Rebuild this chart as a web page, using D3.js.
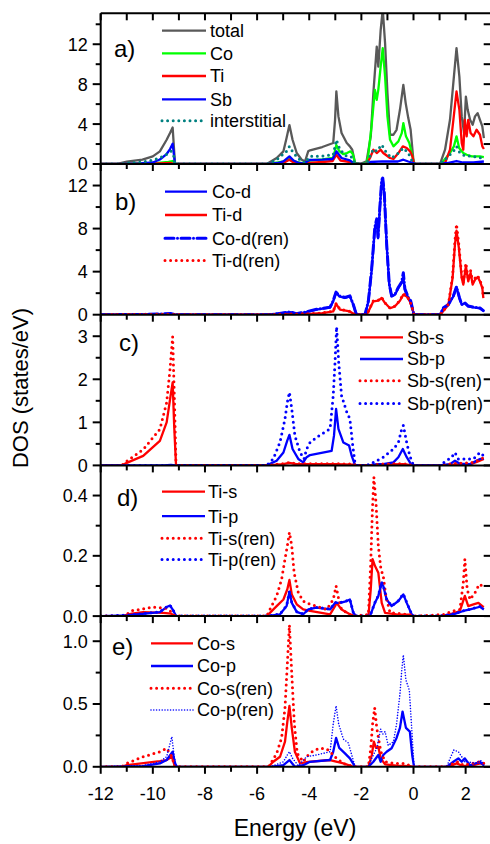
<!DOCTYPE html>
<html><head><meta charset="utf-8">
<script src="https://cdn.jsdelivr.net/npm/d3@7"></script>
<style>
html,body{margin:0;padding:0;background:#fff;}
svg{display:block;font-family:"Liberation Sans",Arial,sans-serif;}
</style></head>
<body><svg id="c" width="490" height="844"></svg>
<script>
// ---------- data: [energy eV, DOS] ----------
// panel a
const total = [[-12,0],[-11.4,0],[-11.0,0.23],[-10.4,0.43],[-10.0,0.77],[-9.73,1.27],[-9.47,2.43],[-9.34,3.1],[-9.24,3.66],[-9.15,0],
[-5.63,0],[-5.25,0.6],[-4.99,1.27],[-4.87,2.6],[-4.76,3.9],[-4.64,2.43],[-4.48,1.1],[-4.29,0.43],[-4.16,0.27],[-4.04,1.27],[-3.97,1.37],[-3.5,1.7],[-3.08,2.1],[-3.01,4.4],[-2.96,7.27],[-2.88,4.77],[-2.76,3.1],[-2.56,2.1],[-2.44,1.77],[-2.35,1.43],[-2.24,0.1],[-2.05,0],[-1.8,0.27],[-1.64,2.77],[-1.54,7.1],[-1.41,11.76],[-1.35,9.76],[-1.26,13.4],[-1.18,15.5],[-1.09,12.1],[-1.0,7.1],[-0.9,2.93],[-0.77,2.93],[-0.65,3.43],[-0.52,5.43],[-0.39,7.93],[-0.30,6.1],[-0.20,4.6],[-0.11,3.43],[0,0.27],[0.06,0],
[1.02,0],[1.21,1.43],[1.40,4.43],[1.55,8.76],[1.65,11.6],[1.76,8.76],[1.85,4.77],[1.94,3.1],[2.01,6.76],[2.08,5.43],[2.17,4.43],[2.27,3.93],[2.36,4.77],[2.46,5.1],[2.55,4.43],[2.64,3.77],[2.7,2.6]];
const co = [[-12,0],[-11.2,0],[-10.5,0.05],[-9.8,0.12],[-9.4,0.22],[-9.24,0.3],[-9.15,0],
[-5.6,0],[-5.2,0.15],[-4.9,0.3],[-4.76,0.5],[-4.6,0.3],[-4.3,0.1],[-4.1,0.05],[-4.0,0.35],[-3.5,0.45],[-3.08,0.6],[-2.96,1.9],[-2.85,1.3],[-2.7,1.0],[-2.55,1.1],[-2.42,1.27],[-2.33,1.0],[-2.24,0.05],[-2.05,0],[-1.80,0.15],[-1.74,0.76],[-1.61,3.76],[-1.48,7.43],[-1.41,6.43],[-1.35,7.43],[-1.26,9.76],[-1.18,11.6],[-1.09,8.76],[-1.0,4.77],[-0.9,2.43],[-0.77,1.77],[-0.58,2.27],[-0.45,3.1],[-0.39,4.1],[-0.29,2.77],[-0.16,2.1],[-0.07,1.1],[0.02,0.1],[0.06,0],
[1.0,0],[1.14,0.27],[1.40,1.1],[1.55,1.77],[1.65,2.77],[1.75,1.6],[1.91,1.1],[2.04,0.93],[2.23,0.76],[2.55,0.76],[2.7,0.7]];
const ti = [[-12,0],[-11.2,0],[-10.5,0.03],[-9.8,0.06],[-9.3,0.1],[-9.15,0],
[-5.6,0],[-5.0,0.1],[-4.76,0.43],[-4.6,0.15],[-4.3,0.03],[-4.0,0.1],[-3.5,0.2],[-3.1,0.3],[-2.96,0.93],[-2.8,0.35],[-2.44,0.2],[-2.3,0.1],[-2.24,0],
[-1.8,0],[-1.67,0.6],[-1.54,1.43],[-1.41,1.1],[-1.26,1.43],[-1.16,1.1],[-0.9,0.6],[-0.77,0.5],[-0.58,1.1],[-0.41,1.77],[-0.26,1.6],[-0.13,1.27],[-0.04,0.76],[0.02,0],
[1.0,0],[1.21,0.1],[1.40,1.43],[1.53,4.43],[1.65,7.27],[1.76,5.43],[1.85,2.1],[1.91,1.43],[1.97,4.43],[2.04,2.77],[2.10,4.43],[2.19,3.1],[2.30,2.77],[2.42,3.43],[2.55,2.93],[2.64,1.77],[2.7,1.5]];
const sb = [[-12,0],[-11.2,0],[-10.5,0.05],[-10.0,0.15],[-9.73,0.45],[-9.47,1.0],[-9.34,1.5],[-9.24,2.03],[-9.15,0],
[-5.6,0],[-5.2,0.1],[-4.99,0.27],[-4.76,0.76],[-4.6,0.35],[-4.4,0.1],[-4.2,0.05],[-4.0,0.4],[-3.5,0.43],[-3.1,0.5],[-2.96,1.27],[-2.76,0.6],[-2.44,0.37],[-2.3,0.1],[-2.24,0],
[-1.8,0],[-1.65,0.2],[-1.2,0.27],[-0.6,0.25],[-0.39,0.43],[-0.2,0.25],[0,0.1],[0.06,0],
[1.0,0],[1.3,0.1],[1.65,0.3],[1.9,0.15],[2.3,0.15],[2.7,0.25]];
const interstitial = [[-12,0],[-11.2,0],[-11.0,0.08],[-10.4,0.2],[-10.0,0.4],[-9.7,0.65],[-9.45,1.0],[-9.3,1.27],[-9.2,0.8],[-9.15,0],
[-5.6,0],[-5.25,0.43],[-4.87,1.27],[-4.76,1.77],[-4.61,1.1],[-4.36,0.43],[-4.16,0.1],[-3.97,0.76],[-3.5,0.8],[-3.08,0.93],[-2.96,2.43],[-2.82,1.43],[-2.56,0.76],[-2.37,0.7],[-2.24,0],
[-1.8,0],[-1.67,0.76],[-1.54,1.5],[-1.41,1.27],[-1.22,1.93],[-1.03,1.1],[-0.84,0.6],[-0.58,1.1],[-0.39,1.6],[-0.2,1.1],[0,0],
[1.0,0],[1.27,0.6],[1.53,1.27],[1.65,1.77],[1.78,1.1],[1.97,0.83],[2.3,0.76],[2.64,0.6],[2.7,0.55]];
// panel b
const coD = [[-12,0],[-10.5,0.02],[-9.3,0.08],[-9.15,0],[-5.6,0],[-5.2,0.1],[-4.74,0.24],[-4.5,0.1],[-4.2,0.2],[-3.72,0.47],[-3.2,0.68],[-3.08,1.24],[-2.97,2.07],[-2.85,1.7],[-2.63,1.55],[-2.44,1.7],[-2.31,0.93],[-2.21,0.15],[-2.12,0],
[-1.86,0],[-1.73,1.24],[-1.61,4.0],[-1.48,8.06],[-1.41,8.8],[-1.36,7.1],[-1.29,9.9],[-1.22,12.4],[-1.18,12.6],[-1.12,11.2],[-1.03,6.5],[-0.93,2.8],[-0.84,1.7],[-0.71,1.86],[-0.58,2.48],[-0.46,2.94],[-0.39,3.45],[-0.33,2.3],[-0.2,1.55],[-0.11,1.24],[0,0.15],[0.06,0],
[1.02,0],[1.14,0.6],[1.34,0.93],[1.53,1.7],[1.65,2.54],[1.76,1.55],[1.85,0.93],[1.97,1.08],[2.1,0.78],[2.3,0.68],[2.55,0.6],[2.68,0.36]];
const tiD = [[-12,0],[-9.3,0.03],[-9.15,0],[-5.6,0],[-4.74,0.05],[-4.0,0.08],[-3.5,0.15],[-3.08,0.3],[-2.97,1.0],[-2.82,0.47],[-2.44,0.3],[-2.25,0],
[-1.8,0],[-1.73,0.3],[-1.54,1.24],[-1.35,1.3],[-1.22,1.55],[-1.09,1.08],[-0.9,0.6],[-0.71,0.78],[-0.52,1.3],[-0.39,1.86],[-0.26,1.7],[-0.14,1.24],[-0.05,0.6],[0.02,0],
[1.0,0],[1.08,0.15],[1.34,0.93],[1.5,3.41],[1.59,6.5],[1.65,7.8],[1.74,6.2],[1.85,3.4],[1.91,2.8],[2.01,4.5],[2.1,3.1],[2.19,3.9],[2.27,2.8],[2.36,3.25],[2.46,3.5],[2.55,3.1],[2.64,2.48],[2.68,1.55]];
const coDren = [[-12,0],[-10.5,0.02],[-9.3,0.1],[-9.15,0],[-5.6,0],[-5.2,0.1],[-4.74,0.26],[-4.5,0.1],[-4.2,0.22],[-3.72,0.5],[-3.2,0.7],[-3.08,1.3],[-2.97,2.1],[-2.85,1.75],[-2.63,1.6],[-2.44,1.75],[-2.31,0.95],[-2.21,0.15],[-2.12,0],
[-1.86,0],[-1.73,1.3],[-1.61,4.1],[-1.48,8.2],[-1.41,8.9],[-1.36,7.2],[-1.29,10.0],[-1.22,12.5],[-1.18,12.7],[-1.12,11.3],[-1.03,6.6],[-0.93,2.85],[-0.84,1.75],[-0.71,1.9],[-0.58,2.55],[-0.46,3.0],[-0.39,3.9],[-0.33,2.4],[-0.2,1.6],[-0.11,1.3],[0,0.15],[0.06,0],
[1.02,0],[1.14,0.62],[1.34,0.95],[1.53,1.75],[1.65,2.6],[1.76,1.6],[1.85,0.95],[1.97,1.1],[2.1,0.8],[2.3,0.7],[2.55,0.62],[2.68,0.38]];
const tiDren = [[-12,0],[-9.3,0.04],[-9.15,0],[-5.6,0],[-4.74,0.06],[-4.0,0.09],[-3.5,0.16],[-3.08,0.32],[-2.97,1.05],[-2.82,0.5],[-2.44,0.32],[-2.25,0],
[-1.8,0],[-1.73,0.32],[-1.54,1.3],[-1.35,1.35],[-1.22,1.6],[-1.09,1.1],[-0.9,0.62],[-0.71,0.8],[-0.52,1.35],[-0.39,1.95],[-0.26,1.75],[-0.14,1.3],[-0.05,0.62],[0.02,0],
[1.0,0],[1.08,0.16],[1.34,0.98],[1.5,3.6],[1.59,6.9],[1.65,8.4],[1.74,6.5],[1.85,3.6],[1.91,3.0],[2.01,4.8],[2.1,3.3],[2.19,4.1],[2.27,3.0],[2.36,3.4],[2.46,3.65],[2.55,3.2],[2.64,2.6],[2.68,1.6]];
// panel c
const sbS = [[-12,0],[-11.19,0],[-11.0,0.06],[-10.37,0.22],[-9.73,0.57],[-9.47,1.0],[-9.34,1.53],[-9.24,1.93],[-9.18,0.9],[-9.11,0],
[-5.6,0],[-5.0,0.03],[-4.76,0.06],[-4.5,0.03],[-3.0,0.03],[-2.3,0.02],[-2.2,0],[-1.7,0],[-1.2,0.02],[-0.4,0.03],[0,0],[1.0,0],[1.5,0.02],[2.2,0.03],[2.5,0.1],[2.7,0.15]];
const sbP = [[-12,0],[-9.6,0],[-9.3,0.01],[-9.15,0],[-5.63,0],[-5.25,0.11],[-4.99,0.3],[-4.84,0.58],[-4.76,0.71],[-4.64,0.38],[-4.42,0.15],[-4.23,0.07],[-4.1,0.19],[-3.97,0.24],[-3.14,0.34],[-3.05,0.69],[-2.97,1.31],[-2.88,0.85],[-2.69,0.53],[-2.47,0.46],[-2.37,0.22],[-2.24,0],
[-1.7,0],[-1.4,0.03],[-1.16,0.03],[-0.77,0.07],[-0.58,0.19],[-0.41,0.38],[-0.26,0.19],[-0.07,0],
[1.02,0],[1.4,0.03],[1.59,0.11],[1.78,0.04],[2.17,0.03],[2.55,0.15],[2.7,0.15]];
const sbSren = [[-12,0],[-11.19,0],[-11.0,0.1],[-10.37,0.37],[-9.73,0.84],[-9.47,1.46],[-9.34,2.24],[-9.24,2.99],[-9.18,1.7],[-9.11,0],
[-5.6,0],[-5.0,0.04],[-4.76,0.07],[-4.5,0.04],[-3.0,0.04],[-2.3,0.03],[-2.2,0],[-1.7,0],[-1.2,0.03],[-0.4,0.04],[0,0],[1.0,0],[1.5,0.04],[2.2,0.06],[2.5,0.12],[2.7,0.18]];
const sbPren = [[-12,0],[-9.15,0],[-5.63,0],[-5.38,0.15],[-5.12,0.54],[-4.93,1.08],[-4.84,1.47],[-4.76,1.7],[-4.67,1.31],[-4.55,0.69],[-4.35,0.3],[-4.2,0.15],[-4.1,0.38],[-3.97,0.53],[-3.72,0.65],[-3.2,0.85],[-3.08,1.62],[-3.01,2.4],[-2.95,3.22],[-2.87,2.4],[-2.76,1.62],[-2.56,1.24],[-2.44,1.08],[-2.33,0.46],[-2.24,0.03],[-2.2,0],
[-1.8,0],[-1.67,0.03],[-1.41,0.11],[-1.16,0.19],[-0.77,0.38],[-0.58,0.53],[-0.45,0.85],[-0.39,0.93],[-0.26,0.53],[-0.14,0.22],[0,0],
[1.0,0],[1.27,0.11],[1.46,0.19],[1.59,0.3],[1.72,0.15],[1.97,0.15],[2.3,0.15],[2.55,0.3],[2.7,0.22]];
// panel d
const tiS = [[-12,0],[-11.19,0],[-10.8,0.008],[-10.37,0.013],[-9.6,0.011],[-9.3,0.008],[-9.15,0],
[-5.63,0],[-5.25,0.033],[-4.99,0.055],[-4.84,0.089],[-4.76,0.12],[-4.67,0.072],[-4.48,0.039],[-4.23,0.022],[-3.97,0.017],[-3.2,0.006],[-3.01,0.033],[-2.95,0.044],[-2.76,0.022],[-2.44,0.006],[-2.24,0],
[-1.73,0],[-1.64,0.089],[-1.57,0.189],[-1.48,0.167],[-1.35,0.144],[-1.22,0.044],[-1.09,0.011],[-0.65,0.006],[-0.14,0.005],[0,0],
[1.0,0],[1.4,0.006],[1.78,0.017],[1.97,0.067],[2.1,0.033],[2.3,0.039],[2.49,0.044],[2.64,0.033],[2.7,0.03]];
const tiP = [[-12,0],[-11.0,0.002],[-9.73,0.013],[-9.47,0.03],[-9.34,0.035],[-9.21,0.018],[-9.11,0],
[-5.63,0],[-5.12,0.006],[-4.87,0.033],[-4.76,0.08],[-4.67,0.044],[-4.48,0.014],[-4.23,0.006],[-4.04,0.022],[-3.72,0.028],[-3.2,0.022],[-3.01,0.044],[-2.82,0.044],[-2.56,0.05],[-2.44,0.055],[-2.31,0.011],[-2.2,0],
[-1.67,0],[-1.48,0.044],[-1.35,0.067],[-1.22,0.111],[-1.16,0.1],[-1.03,0.055],[-0.84,0.033],[-0.58,0.05],[-0.39,0.072],[-0.26,0.044],[-0.07,0.006],[0,0],
[1.02,0],[1.53,0.006],[1.91,0.017],[2.17,0.022],[2.55,0.031],[2.7,0.022]];
const tiSren = [[-12,0],[-11.1,0],[-10.79,0.018],[-10.37,0.024],[-10.02,0.03],[-9.47,0.026],[-9.21,0.008],[-9.15,0],
[-5.63,0],[-5.51,0.022],[-5.25,0.067],[-5.06,0.122],[-4.93,0.189],[-4.84,0.233],[-4.76,0.278],[-4.67,0.233],[-4.58,0.144],[-4.42,0.078],[-4.23,0.05],[-3.97,0.039],[-3.72,0.033],[-3.33,0.022],[-3.08,0.055],[-2.97,0.1],[-2.88,0.061],[-2.76,0.022],[-2.56,0.011],[-2.3,0],
[-1.73,0.005],[-1.64,0.178],[-1.58,0.344],[-1.52,0.461],[-1.44,0.378],[-1.35,0.233],[-1.25,0.156],[-1.16,0.133],[-1.06,0.067],[-0.9,0.011],[-0.52,0.008],[-0.14,0.005],[0,0],
[1.14,0.005],[1.53,0.017],[1.78,0.022],[1.91,0.111],[1.97,0.189],[2.06,0.089],[2.17,0.055],[2.36,0.078],[2.52,0.106],[2.64,0.1],[2.7,0.09]];
const tiPren = [[-12,0],[-11.0,0.003],[-9.73,0.014],[-9.47,0.031],[-9.34,0.036],[-9.21,0.018],[-9.11,0],
[-5.63,0],[-5.12,0.007],[-4.87,0.034],[-4.76,0.082],[-4.67,0.045],[-4.48,0.015],[-4.23,0.007],[-4.04,0.023],[-3.72,0.029],[-3.2,0.023],[-3.01,0.045],[-2.82,0.045],[-2.56,0.051],[-2.44,0.056],[-2.31,0.012],[-2.2,0],
[-1.67,0],[-1.48,0.045],[-1.35,0.068],[-1.22,0.113],[-1.16,0.102],[-1.03,0.056],[-0.84,0.034],[-0.58,0.051],[-0.39,0.074],[-0.26,0.045],[-0.07,0.007],[0,0],
[1.02,0],[1.53,0.007],[1.91,0.018],[2.17,0.023],[2.55,0.032],[2.7,0.023]];
// panel e
const coS = [[-12,0],[-11.19,0],[-11.0,0.013],[-9.73,0.045],[-9.47,0.054],[-9.27,0.08],[-9.15,0],
[-5.57,0],[-5.38,0.04],[-5.12,0.08],[-4.93,0.2],[-4.84,0.36],[-4.76,0.485],[-4.67,0.31],[-4.55,0.12],[-4.35,0.027],[-4.04,0.04],[-3.2,0.054],[-2.69,0.027],[-2.3,0],
[-1.73,0],[-1.6,0.094],[-1.52,0.2],[-1.44,0.15],[-1.35,0.16],[-1.26,0.067],[-1.09,0.02],[-0.65,0.01],[-0.14,0.005],[0,0],
[1.14,0],[1.4,0.005],[1.65,0.027],[1.85,0.01],[2.17,0.005],[2.55,0.027],[2.7,0.02]];
const coP = [[-12,0],[-10.37,0.005],[-9.73,0.027],[-9.47,0.054],[-9.24,0.12],[-9.15,0.03],[-9.08,0],
[-5.5,0],[-4.99,0.013],[-4.76,0.054],[-4.55,0],[-4.23,0.013],[-3.97,0.04],[-3.2,0.054],[-3.08,0.12],[-2.97,0.23],[-2.85,0.15],[-2.63,0.107],[-2.44,0.067],[-2.24,0],
[-1.73,0],[-1.54,0.04],[-1.35,0.094],[-1.26,0.04],[-1.16,0.094],[-1.03,0.12],[-0.84,0.148],[-0.65,0.23],[-0.52,0.31],[-0.42,0.44],[-0.29,0.31],[-0.14,0.28],[-0.05,0.094],[0.02,0],
[1.27,0],[1.53,0.04],[1.72,0.067],[1.85,0.04],[1.97,0.067],[2.17,0.01],[2.55,0.04],[2.7,0.01]];
const coSren = [[-12,0],[-11.19,0],[-11.0,0.027],[-10.37,0.08],[-9.73,0.12],[-9.47,0.148],[-9.27,0.08],[-9.15,0],
[-5.57,0],[-5.44,0.04],[-5.25,0.107],[-5.06,0.23],[-4.93,0.47],[-4.84,0.82],[-4.76,1.13],[-4.67,0.74],[-4.57,0.34],[-4.46,0.107],[-4.23,0.04],[-4.04,0.094],[-3.84,0.127],[-3.59,0.148],[-3.33,0.143],[-3.14,0.107],[-2.95,0.067],[-2.69,0.027],[-2.44,0.01],[-2.24,0],
[-1.73,0],[-1.64,0.148],[-1.57,0.34],[-1.49,0.47],[-1.41,0.31],[-1.32,0.2],[-1.25,0.12],[-1.09,0.04],[-0.77,0.027],[-0.39,0.027],[-0.14,0.01],[0,0],
[1.27,0],[1.53,0.027],[1.72,0.04],[1.91,0.013],[2.55,0.04],[2.7,0.027]];
const coPren = [[-12,0],[-10.37,0.01],[-9.73,0.04],[-9.47,0.08],[-9.27,0.24],[-9.18,0.08],[-9.1,0],
[-5.5,0],[-4.99,0.04],[-4.84,0.094],[-4.76,0.12],[-4.64,0.067],[-4.42,0.01],[-4.1,0.08],[-3.72,0.094],[-3.2,0.12],[-3.08,0.34],[-2.97,0.485],[-2.87,0.34],[-2.69,0.22],[-2.5,0.19],[-2.37,0.094],[-2.24,0],
[-1.73,0],[-1.6,0.067],[-1.41,0.148],[-1.26,0.3],[-1.18,0.26],[-1.09,0.28],[-0.97,0.17],[-0.77,0.2],[-0.65,0.34],[-0.52,0.58],[-0.45,0.77],[-0.39,0.89],[-0.29,0.69],[-0.16,0.61],[-0.07,0.31],[0.02,0],
[1.27,0],[1.46,0.094],[1.55,0.134],[1.72,0.12],[1.85,0.08],[1.97,0.04],[2.4,0.03],[2.6,0.05],[2.7,0.01]];

// axis ticks / labels
const xTicks = d3.range(-12, 4, 1);
const xTickLabels = ["-12","-10","-8","-6","-4","-2","0","2"];
const xLabelValues = [-12,-10,-8,-6,-4,-2,0,2];
const panelLabels = ["a)","b)","c)","d)","e)"];
const yMax = [15.1, 14.0, 3.5, 0.5, 1.2];
const yMajor = [[0,4,8,12],[0,4,8,12],[0,1,2,3],[0,0.2,0.4],[0,0.5,1.0]];
const yMajorLabels = [["0","4","8","12"],["0","4","8","12"],["0","1","2","3"],["0.0","0.2","0.4"],["0.0","0.5","1.0"]];
const yMinor = [[2,6,10,14],[2,6,10],[0.5,1.5,2.5,3.5],[0.1,0.3,0.5],[0.25,0.75]];

// series styles
const RED="#ff0000", BLUE="#0000ff", GREEN="#00ff00", GRAY="#595959", TEAL="#008080";
const SOLID={w:2.3,dash:null,cap:"butt"};
const DOT={w:3,dash:"0,5.6",cap:"round"};
const DASHDOT={w:3,dash:"9,3.5,0,3.5",cap:"round"};
const THINDOT={w:1.6,dash:"0,2.8",cap:"round"};
const panels = [
  {series:[["total",total,GRAY,SOLID],["Co",co,GREEN,SOLID],["Ti",ti,RED,SOLID],["Sb",sb,BLUE,SOLID],["interstitial",interstitial,TEAL,DOT]],
   legend:{x1:162,x2:206,tx:210,ys:[30.7,53.3,76,99.3,120.7]}, lab:[114,57]},
  {series:[["Co-d",coD,BLUE,SOLID],["Ti-d",tiD,RED,SOLID],["Co-d(ren)",coDren,BLUE,DASHDOT],["Ti-d(ren)",tiDren,RED,DOT]],
   legend:{x1:165,x2:207,tx:212,ys:[191.7,215,238.3,260.5]}, lab:[115,210]},
  {series:[["Sb-s",sbS,RED,SOLID],["Sb-p",sbP,BLUE,SOLID],["Sb-s(ren)",sbSren,RED,DOT],["Sb-p(ren)",sbPren,BLUE,DOT]],
   legend:{x1:360,x2:403,tx:407,ys:[337.3,359,380.7,403.5]}, lab:[119,351]},
  {series:[["Ti-s",tiS,RED,SOLID],["Ti-p",tiP,BLUE,SOLID],["Ti-s(ren)",tiSren,RED,DOT],["Ti-p(ren)",tiPren,BLUE,DOT]],
   legend:{x1:162,x2:205,tx:208,ys:[491.7,516.2,538.3,559.5]}, lab:[117,506]},
  {series:[["Co-s",coS,RED,SOLID],["Co-p",coP,BLUE,SOLID],["Co-s(ren)",coSren,RED,DOT],["Co-p(ren)",coPren,BLUE,THINDOT]],
   legend:{x1:151,x2:193,tx:197,ys:[643.3,666,688.3,710]}, lab:[112,655]}
];

// ---------- layout ----------
const svg = d3.select("#c");
const L = 100.7, R = 491.7, T0 = 13.3, PH = 150.7;
const x = d3.scaleLinear().domain([-12, 3]).range([L, R]);
const FONT = 18;

panels.forEach((p, i) => {
  const top = T0 + i*PH, bot = top + PH;
  const y = d3.scaleLinear().domain([0, yMax[i]]).range([bot, top]);
  const g = svg.append("g");
  const cid = "clip"+i;
  svg.append("clipPath").attr("id", cid).append("rect").attr("x", L).attr("y", top).attr("width", R-L).attr("height", PH);
  const line = d3.line().x(d => x(d[0])).y(d => y(d[1]));
  const cg = g.append("g").attr("clip-path", `url(#${cid})`);
  p.series.forEach(([name, data, col, st]) => {
    cg.append("path").attr("d", line(data)).attr("fill","none").attr("stroke", col)
      .attr("stroke-width", st.w).attr("stroke-linecap", st.cap).attr("stroke-linejoin","round")
      .attr("stroke-dasharray", st.dash);
  });
  // left axis
  const ax = g.append("g").attr("stroke","#000").attr("stroke-width",2);
  ax.append("line").attr("x1",L).attr("x2",L).attr("y1",top).attr("y2",bot);
  ax.append("line").attr("x1",L).attr("x2",R).attr("y1",bot).attr("y2",bot);
  if (i === 0) ax.append("line").attr("x1",L).attr("x2",R).attr("y1",top).attr("y2",top);
  yMajor[i].forEach(v => {
    ax.append("line").attr("x1",L-8).attr("x2",L).attr("y1",y(v)).attr("y2",y(v));
    ax.append("line").attr("x1",R-8).attr("x2",R).attr("y1",y(v)).attr("y2",y(v));
  });
  yMinor[i].forEach(v => {
    if (y(v) < top + 1) return;
    ax.append("line").attr("x1",L-5).attr("x2",L).attr("y1",y(v)).attr("y2",y(v));
    ax.append("line").attr("x1",R-8).attr("x2",R).attr("y1",y(v)).attr("y2",y(v));
  });
  xTicks.forEach(v => {
    const len = (v % 2 === 0) ? 7 : 5;
    ax.append("line").attr("x1",x(v)).attr("x2",x(v)).attr("y1",bot).attr("y2",bot+len);
    if (i === 0) ax.append("line").attr("x1",x(v)).attr("x2",x(v)).attr("y1",top).attr("y2",top+7);
  });
  yMajor[i].forEach((v, k) => {
    g.append("text").attr("x", L-13).attr("y", y(v)).attr("dy","0.36em")
      .attr("text-anchor","end").attr("font-size",FONT).text(yMajorLabels[i][k]);
  });
  // panel label
  g.append("text").attr("x", p.lab[0]).attr("y", p.lab[1]).attr("font-size",24).text(panelLabels[i]);
  // legend
  p.series.forEach(([name, data, col, st], k) => {
    const ly = p.legend.ys[k];
    g.append("line").attr("x1",p.legend.x1).attr("x2",p.legend.x2).attr("y1",ly).attr("y2",ly)
      .attr("stroke",col).attr("stroke-width",st.w).attr("stroke-linecap",st.cap).attr("stroke-dasharray",st.dash);
    g.append("text").attr("x",p.legend.tx).attr("y",ly).attr("dy","0.36em").attr("font-size",FONT).text(name);
  });
  if (i === panels.length-1) {
    xLabelValues.forEach((v,k) => {
      g.append("text").attr("x", x(v)).attr("y", 800).attr("text-anchor","middle").attr("font-size",FONT).text(xTickLabels[k]);
    });
  }
});

svg.append("text").attr("x", 295).attr("y", 836).attr("text-anchor","middle").attr("font-size",23).text("Energy (eV)");
svg.append("text").attr("transform","translate(28,388) rotate(-90)").attr("text-anchor","middle").attr("font-size",22).text("DOS (states/eV)");
</script></body></html>
